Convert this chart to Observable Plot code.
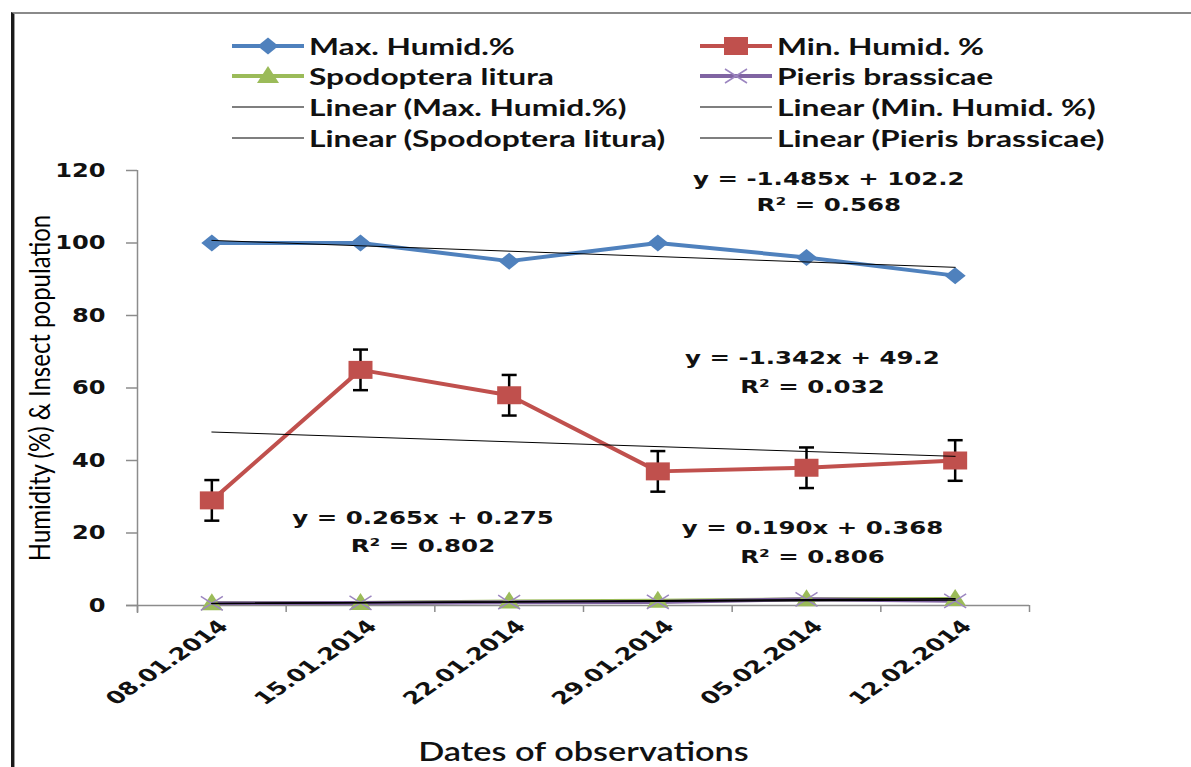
<!DOCTYPE html>
<html><head><meta charset="utf-8">
<script src="https://cdn.jsdelivr.net/npm/d3@7"></script>
<script src="https://cdn.jsdelivr.net/npm/@observablehq/plot@0.6"></script>
<style>
body{margin:0;background:#fff;}
#wrap{position:relative;width:1191px;height:767px;overflow:hidden;}
#frame{position:absolute;left:11px;top:12px;width:1200px;height:800px;border-top:2px solid #8a8a8a;border-left:3px solid #1a1a1a;box-shadow:inset 1px 0 0 #9a9a9a;pointer-events:none;}
#legend{position:relative;height:160px;font-family:Lato,"Open Sans",sans-serif;font-weight:700;font-size:23px;color:#111;}
.item{position:absolute;display:flex;align-items:center;height:30px;white-space:nowrap;}
.item svg{margin-right:5px;}
.item span{display:inline-block;transform:scaleX(1.38);transform-origin:left center;}
#chart svg{display:block;}
</style></head><body>
<div id="wrap"><div id="frame"></div><div id="legend"></div><div id="chart"></div></div>
<script>
const dates = ["08.01.2014","15.01.2014","22.01.2014","29.01.2014","05.02.2014","12.02.2014"];
const maxHumid = [100,100,95,100,96,91];
const minHumid = [29,65,58,37,38,40];
const minHumidErr = [5.6,5.6,5.6,5.6,5.6,5.6];
const spodoptera = [0.6,0.7,1.1,1.3,1.7,1.8];
const pieris = [0.6,0.7,0.9,1.0,1.7,1.3];
const seriesNames = ["Max. Humid.%","Min. Humid. %","Spodoptera litura","Pieris brassicae"];
const trendNames = ["Linear (Max. Humid.%)","Linear (Min. Humid. %)","Linear (Spodoptera litura)","Linear (Pieris brassicae)"];
const yTicks = [0,20,40,60,80,100,120];
const yTitle = "Humidity (%) & Insect population";
const xTitle = "Dates of observations";
const colors = ["#4F81BD","#C0504D","#9BBB59","#8064A2"];

const rows = (vals) => vals.map((v,i)=>({i:i+1, v, e: minHumidErr[i]}));
const maxData = rows(maxHumid), minData = rows(minHumid), spoData = rows(spodoptera), pieData = rows(pieris);
const boundaries = d3.range(0.5, dates.length + 1, 1);
const positions = dates.map((d,i)=>i+1);

const diamond = {draw(c){c.moveTo(0,-8.5);c.lineTo(10.5,0);c.lineTo(0,8.5);c.lineTo(-10.5,0);c.closePath();}};
const square = {draw(c){c.rect(-12,-9,24,18);}};
const triangle = {draw(c){c.moveTo(0,-10);c.lineTo(11,7);c.lineTo(-11,7);c.closePath();}};
const cross = {draw(c){c.moveTo(-11,-7);c.lineTo(11,7);c.moveTo(-11,7);c.lineTo(11,-7);}};
const cap = {draw(c){c.moveTo(-7.5,0);c.lineTo(7.5,0);}};

const eq = {fontFamily:"DejaVu Sans", fontWeight:"bold", fontSize:18, fill:"#111", text:d=>d};

const chart = Plot.plot({
  width:1191, height:607,
  marginTop:10, marginBottom:162, marginLeft:137, marginRight:162,
  x:{domain:[0.5,6.5]},
  y:{domain:[0,120]},
  style:{fontFamily:"DejaVu Sans", fontWeight:"bold", fontSize:"20px", color:"#111", background:"transparent", overflow:"visible"},
  marks:[
    Plot.ruleX([0.5],{stroke:"#8c8c8c", strokeWidth:1.5, insetBottom:-8}),
    Plot.ruleY([0],{stroke:"#8c8c8c", strokeWidth:1.5, insetLeft:-11}),
    Plot.axisX(boundaries,{tickSize:7, tickFormat:()=>"", stroke:"#8c8c8c", strokeWidth:1.5, label:null}),
    Plot.axisX(positions,{tickSize:0, tickFormat:i=>dates[i-1], tickRotate:-45, tickPadding:18, dx:12, textAnchor:"end", fontSize:17.5, fontWeight:"bold", fill:"#111", label:null}),
    Plot.axisY(yTicks,{tickSize:11, tickPadding:21, stroke:"#8c8c8c", strokeWidth:1.5, fontSize:19, fontWeight:"bold", fill:"#111", label:null}),
    Plot.text([yTitle],{frameAnchor:"left", dx:-97, rotate:-90, textAnchor:"middle", text:d=>d, fontFamily:"Lato", fontWeight:"normal", fontSize:24, fill:"#000"}),
    Plot.text([xTitle],{frameAnchor:"bottom", dy:155, text:d=>d, fontFamily:"Lato", fontWeight:"600", fontSize:27, fill:"#111"}),
    // series lines
    Plot.line(maxData,{x:"i", y:"v", stroke:colors[0], strokeWidth:4}),
    Plot.line(minData,{x:"i", y:"v", stroke:colors[1], strokeWidth:4}),
    Plot.line(spoData,{x:"i", y:"v", stroke:colors[2], strokeWidth:4}),
    Plot.line(pieData,{x:"i", y:"v", stroke:colors[3], strokeWidth:4}),
    // error bars
    Plot.ruleX(minData,{x:"i", y1:d=>d.v-d.e, y2:d=>d.v+d.e, stroke:"#000", strokeWidth:2.5}),
    Plot.dot(minData,{x:"i", y:d=>d.v+d.e, symbol:cap, stroke:"#000", strokeWidth:2.5}),
    Plot.dot(minData,{x:"i", y:d=>d.v-d.e, symbol:cap, stroke:"#000", strokeWidth:2.5}),
    // markers
    Plot.dot(maxData,{x:"i", y:"v", symbol:diamond, fill:colors[0], stroke:"none"}),
    Plot.dot(minData,{x:"i", y:"v", symbol:square, fill:colors[1], stroke:"none"}),
    Plot.dot(spoData,{x:"i", y:"v", symbol:triangle, fill:colors[2], stroke:"none"}),
    Plot.dot(pieData,{x:"i", y:"v", symbol:cross, stroke:"#9c86c0", strokeWidth:1.5}),
    // trend lines
    Plot.linearRegressionY(maxData,{x:"i", y:"v", ci:0, stroke:"#000", strokeWidth:1}),
    Plot.linearRegressionY(minData,{x:"i", y:"v", ci:0, stroke:"#000", strokeWidth:1}),
    Plot.linearRegressionY(spoData,{x:"i", y:"v", ci:0, stroke:"#000", strokeWidth:1.3}),
    Plot.linearRegressionY(pieData,{x:"i", y:"v", ci:0, stroke:"#000", strokeWidth:1.3}),
    // equations
    Plot.text(["y = -1.485x + 102.2"],{...eq, x:5.15, y:117.5}),
    Plot.text(["R² = 0.568"],{...eq, x:5.15, y:110.4}),
    Plot.text(["y = -1.342x + 49.2"],{...eq, x:5.04, y:68.1}),
    Plot.text(["R² = 0.032"],{...eq, x:5.04, y:60.1}),
    Plot.text(["y = 0.265x + 0.275"],{...eq, x:2.42, y:24.0}),
    Plot.text(["R² = 0.802"],{...eq, x:2.42, y:16.3}),
    Plot.text(["y = 0.190x + 0.368"],{...eq, x:5.04, y:21.2}),
    Plot.text(["R² = 0.806"],{...eq, x:5.04, y:13.2})
  ]
});
document.getElementById("chart").appendChild(chart);

// horizontal stretch of glyphs (the reference image is widened)
function stretch(node, sx, sy) {
  const t = node.getAttribute("transform");
  if (t) node.setAttribute("transform", t + ` scale(${sx},${sy})`);
  else {
    const x = +node.getAttribute("x") || 0, y = +node.getAttribute("y") || 0;
    node.setAttribute("transform", `translate(${x},${y}) scale(${sx},${sy}) translate(${-x},${-y})`);
  }
}
function screenStretch(node, sx) {
  const t = node.getAttribute("transform") || "";
  if (t.includes("rotate(")) node.setAttribute("transform", t.replace("rotate(", `scale(${sx},1) rotate(`));
  else stretch(node, sx, 1);
}
d3.select(chart).selectAll("text").each(function(){
  const s = this.textContent;
  const label = this.parentNode.getAttribute("aria-label") || "";
  if (s.startsWith("y =") || s.startsWith("R²")) stretch(this, 1.36, 1);
  else if (label.includes("y-axis tick label")) stretch(this, 1.27, 1);
  else if (label.includes("x-axis tick label")) screenStretch(this, 1.45);
  else if (s === yTitle) stretch(this, 1, 1.2);
  else if (s === xTitle) stretch(this, 1.27, 1);
});

// Legend
const legend = d3.select("#legend");
const markerPaths = [diamond, square, triangle, cross];
const cols = [232, 700];
const rowY = [31, 61, 92, 123];
const entries = [
  ...seriesNames.map((n,k)=>({name:n, kind:"series", k})),
  ...trendNames.map((n,k)=>({name:n, kind:"trend", k}))
];
entries.forEach((e,j)=>{
  const item = legend.append("div").attr("class","item")
    .style("left", cols[j%2]+"px").style("top", rowY[Math.floor(j/2)]+"px");
  const svg = item.append("svg").attr("width",72).attr("height",30);
  if (e.kind === "series") {
    svg.append("line").attr("x1",0).attr("x2",72).attr("y1",15).attr("y2",15)
      .attr("stroke",colors[e.k]).attr("stroke-width",4);
    const p = d3.path(); markerPaths[e.k].draw(p);
    const g = svg.append("path").attr("d",p.toString()).attr("transform","translate(36,15)");
    if (e.k === 3) g.attr("fill","none").attr("stroke","#9c86c0").attr("stroke-width",1.5);
    else g.attr("fill",colors[e.k]);
  } else {
    svg.append("line").attr("x1",0).attr("x2",72).attr("y1",15).attr("y2",15)
      .attr("stroke","#000").attr("stroke-width",1.2);
  }
  item.append("span").text(e.name);
});
</script>
</body></html>
